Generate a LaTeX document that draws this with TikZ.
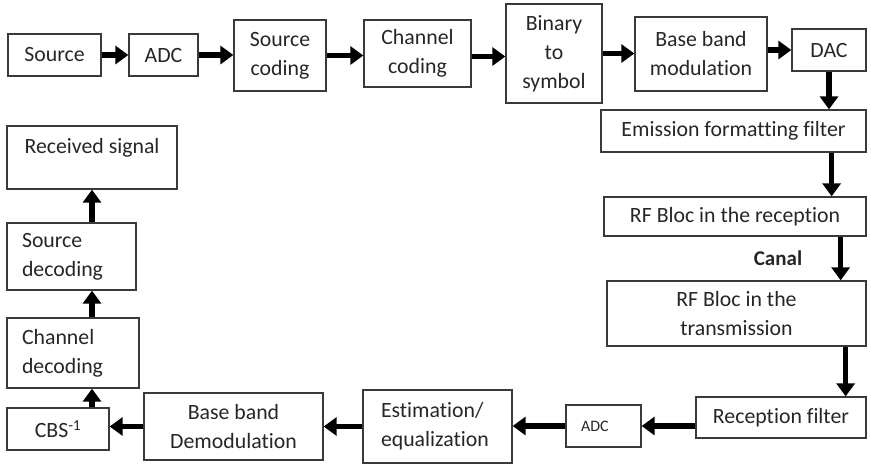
\documentclass[tikz,border=0pt]{standalone}
\usepackage{fontspec}
\setmainfont{Carlito}[Ligatures=NoCommon]
\usetikzlibrary{arrows.meta,calc}
\definecolor{boxgray}{HTML}{3A3A3A}
\definecolor{textgray}{HTML}{262626}
\begin{document}
\begin{tikzpicture}[x=1pt,y=-1pt,
  box/.style={draw=boxgray, line width=1.3pt, inner sep=0pt, align=center,
    font=\fontsize{21.8}{29}\selectfont, text=textgray},
  lbox/.style={box, align=left, inner xsep=15pt},
  flow/.style={line width=5.5pt, draw=black, -{Triangle[length=13pt,width=18pt]}}
]
\useasboundingbox (0,0) rectangle (871,464);

% transmitter chain (top row)
\node[box, minimum width=93pt,  minimum height=42pt] (src)  at (54.5,55)  {Source};
\node[box, minimum width=69pt,  minimum height=42pt] (adcA) at (163.5,55) {ADC};
\node[box, minimum width=92pt,  minimum height=71pt] (scod) at (280,55.5) {Source\\coding};
\node[box, minimum width=107pt, minimum height=67pt] (ccod) at (417.5,53.5) {Channel\\coding};
\node[box, minimum width=96pt,  minimum height=99pt] (bin)  at (554,53.5) {Binary\\to\\symbol};
\node[box, minimum width=132pt, minimum height=74pt] (bbm)  at (701,54)   {Base band\\modulation};
\node[box, minimum width=74pt,  minimum height=42pt] (dac)  at (829,50)   {DAC};

% right column
\node[box, minimum width=265pt, minimum height=42pt] (eff)  at (733.5,131)   {Emission formatting filter};
\node[box, minimum width=262pt, minimum height=39pt] (rfr)  at (735,216.5)   {RF Bloc in the reception};
\node[box, minimum width=259pt, minimum height=65pt] (rft)  at (736.5,313.5) {RF Bloc in the\\transmission};
\node[font=\fontsize{21}{24}\selectfont\bfseries, text=textgray] (canal) at (778,258) {Canal};

% receiver chain (bottom row)
\node[box, minimum width=170pt, minimum height=41pt] (recf) at (781,417.5) {Reception filter};
\node[lbox, text width=45pt, minimum height=42pt,
      font=\fontsize{16}{18}\selectfont] (adcB) at (603.5,426) {ADC};
\node[lbox, inner xsep=18pt, text width=113pt, minimum height=73pt] (est) at (437.5,426.5) {Estimation/\\equalization};
\node[box, minimum width=179pt, minimum height=67pt] (demod) at (233.5,426.5) {Base band\\Demodulation};
\node[box, minimum width=102pt, minimum height=42pt] (cbs)  at (58,429) {CBS\textsuperscript{-1}};

% left column
\node[lbox, text width=102pt, minimum height=70pt] (cd) at (73,353)    {Channel\\decoding};
\node[lbox, text width=99pt,  minimum height=67pt] (sd) at (71.5,256.5) {Source\\decoding};
\node[box, minimum width=170pt, minimum height=63pt, text height=15pt, text depth=24pt] (rs) at (92,157.5) {Received signal};

% connectors
\draw[flow] (src.east) -- (src.east -| adcA.west);
\draw[flow] (adcA.east) -- (adcA.east -| scod.west);
\draw[flow] (scod.east) -- (scod.east -| ccod.west);
\draw[flow] ([yshift=-3pt]ccod.east) -- ([yshift=-3pt]ccod.east -| bin.west);
\draw[flow] (bin.east) -- (bin.east -| bbm.west);
\draw[flow] (bbm.east |- dac.west) -- (dac.west);
\draw[flow] (dac.south) -- (dac.south |- eff.north);
\draw[flow] ([xshift=-35pt]eff.south east) -- ([xshift=-35pt]eff.south east |- rfr.north);
\draw[flow] ([xshift=-26pt]rfr.south east) -- ([xshift=-26pt]rfr.south east |- rft.north);
\draw[flow] ([xshift=-21pt]rft.south east) -- ([xshift=-21pt]rft.south east |- recf.north);
\draw[flow] (recf.west |- adcB.east) -- (adcB.east);
\draw[flow] (adcB.west) -- (adcB.west -| est.east);
\draw[flow] (est.west |- demod.east) -- (demod.east);
\draw[flow] (demod.west) -- (demod.west -| cbs.east);
\draw[flow] (cbs.north -| rs.south) -- (cd.south -| rs.south);
\draw[flow] (cd.north -| rs.south) -- (sd.south -| rs.south);
\draw[flow] (sd.north -| rs.south) -- (rs.south);
\end{tikzpicture}
\end{document}
